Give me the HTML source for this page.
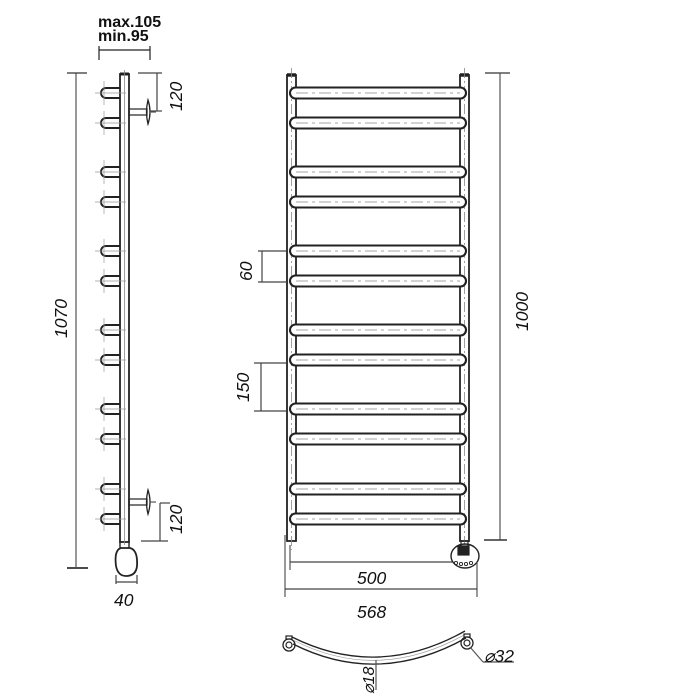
<!DOCTYPE html>
<html><head><meta charset="utf-8"><style>
html,body{margin:0;padding:0;background:#fff;width:700px;height:700px;overflow:hidden}
svg{display:block}
text{font-family:"Liberation Sans",Arial,sans-serif;font-style:italic;fill:#111}
</style></head><body>
<svg width="700" height="700" viewBox="0 0 700 700" xmlns="http://www.w3.org/2000/svg">
<g fill="none" stroke="#222" stroke-width="1.2">
<line x1="76" y1="73" x2="76" y2="567" stroke="#555"/>
<line x1="67" y1="73" x2="87" y2="73" stroke="#333"/>
<line x1="67" y1="568" x2="88" y2="568" stroke="#333" stroke-width="1.8"/>
<line x1="99" y1="46" x2="99" y2="60"/><line x1="150" y1="46" x2="150" y2="60"/>
<line x1="99" y1="50" x2="150" y2="50"/>
<rect x="120" y="74" width="9" height="468" stroke-width="1.8"/>
<line x1="120" y1="74" x2="129" y2="74" stroke-width="3"/>
<line x1="124.5" y1="70" x2="124.5" y2="545" stroke="#888" stroke-width="0.8"/>
<g id="pegs" stroke-width="1.9"></g>
<rect x="129" y="109" width="18" height="6"/>
<path d="M148 100 Q145 112 148 124 Q152 112 148 100Z" stroke-width="1.3"/>
<line x1="150" y1="112" x2="156" y2="112" stroke="#555"/>
<rect x="129" y="499" width="18" height="6"/>
<path d="M148 490 Q145 502 148 514 Q152 502 148 490Z" stroke-width="1.3"/>
<line x1="150" y1="502" x2="156" y2="502" stroke="#555"/>
<line x1="138" y1="73" x2="162" y2="73" stroke="#444"/>
<line x1="157" y1="73" x2="157" y2="111" stroke="#444"/>
<line x1="150" y1="111" x2="162" y2="111" stroke="#444"/>
<line x1="160" y1="503" x2="170" y2="503" stroke="#444"/>
<line x1="160" y1="503" x2="160" y2="541" stroke="#444"/>
<line x1="141" y1="541" x2="168" y2="541" stroke="#444"/>
<path d="M120 542 L120 548 M129 542 L129 548" stroke-width="1.4"/>
<path d="M121 548 Q114 550 116 566 Q118 576 126 576 Q136 576 137 566 Q138 550 130 548 Z" stroke-width="1.8"/>
<line x1="116" y1="575" x2="116" y2="584" stroke="#444"/>
<line x1="137" y1="575" x2="137" y2="584" stroke="#444"/>
<line x1="116" y1="582" x2="137" y2="582" stroke="#444"/>

<rect x="287" y="75" width="9" height="466" stroke-width="1.8"/>
<rect x="460" y="75" width="9" height="466" stroke-width="1.8"/>
<line x1="287" y1="75" x2="296" y2="75" stroke-width="3.5"/>
<line x1="460" y1="75" x2="469" y2="75" stroke-width="3.5"/>
<line x1="291.5" y1="68" x2="291.5" y2="550" stroke="#888" stroke-width="0.8" stroke-dasharray="10 3 2 3"/>
<line x1="464.5" y1="68" x2="464.5" y2="545" stroke="#888" stroke-width="0.8" stroke-dasharray="10 3 2 3"/>
<g id="bars" stroke-width="2.1"></g>
<rect x="461" y="541" width="7" height="5" stroke-width="1.2"/>
<ellipse cx="465" cy="556" rx="14" ry="12" stroke-width="1.4"/>
<rect x="458" y="546" width="11" height="9" fill="#222"/>
<g stroke-width="0.9"><circle cx="456" cy="563" r="1.6"/><circle cx="461" cy="564" r="1.6"/><circle cx="466" cy="564" r="1.6"/><circle cx="471" cy="563" r="1.6"/></g>
<line x1="485" y1="73" x2="510" y2="73" stroke="#333"/>
<line x1="500" y1="73" x2="500" y2="540" stroke="#555"/>
<line x1="484" y1="540" x2="507" y2="540" stroke="#333" stroke-width="1.6"/>
<line x1="258" y1="251" x2="286" y2="251" stroke="#444"/>
<line x1="258" y1="282" x2="286" y2="282" stroke="#444"/>
<line x1="262" y1="251" x2="262" y2="282" stroke="#444"/>
<line x1="254" y1="363" x2="286" y2="363" stroke="#444"/>
<line x1="254" y1="411" x2="286" y2="411" stroke="#444"/>
<line x1="261" y1="363" x2="261" y2="411" stroke="#444"/>
<line x1="290" y1="545" x2="290" y2="570" stroke="#555"/>
<line x1="290" y1="562" x2="452" y2="562" stroke="#444"/>
<line x1="285" y1="535" x2="285" y2="597" stroke="#555"/>
<line x1="477" y1="562" x2="477" y2="597" stroke="#555"/>
<line x1="285" y1="589" x2="477" y2="589" stroke="#444"/>
<path d="M292 637 Q378 680 465 631" stroke-width="1.3"/>
<path d="M293 644 Q378 687 466 638" stroke-width="1.3"/>
<path d="M294 640.5 Q378 683 465 634.5" stroke="#999" stroke-width="0.7"/>
<circle cx="289" cy="645" r="6" stroke-width="1.3"/><circle cx="289" cy="645" r="3"/>
<circle cx="467" cy="643" r="6" stroke-width="1.3"/><circle cx="467" cy="643" r="3"/>
<rect x="286" y="636" width="6" height="3"/><rect x="464" y="634" width="6" height="3"/>
<line x1="470" y1="647" x2="483" y2="662" stroke="#555"/>
<line x1="483" y1="662" x2="514" y2="662" stroke="#555"/>
<line x1="376" y1="660" x2="376" y2="690" stroke="#555"/>
</g>
<g font-size="17.5">
<text x="98" y="27" style="font-style:normal;font-weight:bold" font-size="16">max.105</text>
<text x="98" y="41" style="font-style:normal;font-weight:bold" font-size="16">min.95</text>
<text transform="translate(182 111) rotate(-90)">120</text>
<text transform="translate(182 534) rotate(-90)">120</text>
<text transform="translate(67 338) rotate(-90)">1070</text>
<text x="114" y="606">40</text>
<text transform="translate(252 281) rotate(-90)">60</text>
<text transform="translate(249 402) rotate(-90)">150</text>
<text transform="translate(528 331) rotate(-90)">1000</text>
<text x="357" y="584">500</text>
<text x="357" y="618">568</text>
<text x="484" y="662">⌀32</text>
<text transform="translate(374 694) rotate(-90)" font-size="16">⌀18</text>
</g>
<script>
var ys=[93,123,172,202,251,281,330,360,409,439,489,519];
var b=document.getElementById('bars'),p=document.getElementById('pegs'),ns='http://www.w3.org/2000/svg';
function el(t,a,par){var e=document.createElementNS(ns,t);for(var k in a)e.setAttribute(k,a[k]);par.appendChild(e);}
ys.forEach(function(y){
 el('rect',{x:290,y:y-5.5,width:176,height:11,rx:5.5,fill:'#fff'},b);
 el('line',{x1:296,y1:y,x2:460,y2:y,stroke:'#888','stroke-width':0.8,'stroke-dasharray':'12 4 3 4'},b);
 el('path',{d:'M120 '+(y-5)+' L106 '+(y-5)+' A5 5 0 0 0 106 '+(y+5)+' L120 '+(y+5)},p);
 el('line',{x1:95,y1:y,x2:126,y2:y,stroke:'#999','stroke-width':0.7},p);
 el('line',{x1:104,y1:y-12,x2:104,y2:y+12,stroke:'#999','stroke-width':0.7},p);
});
</script>
</svg>
</body></html>
